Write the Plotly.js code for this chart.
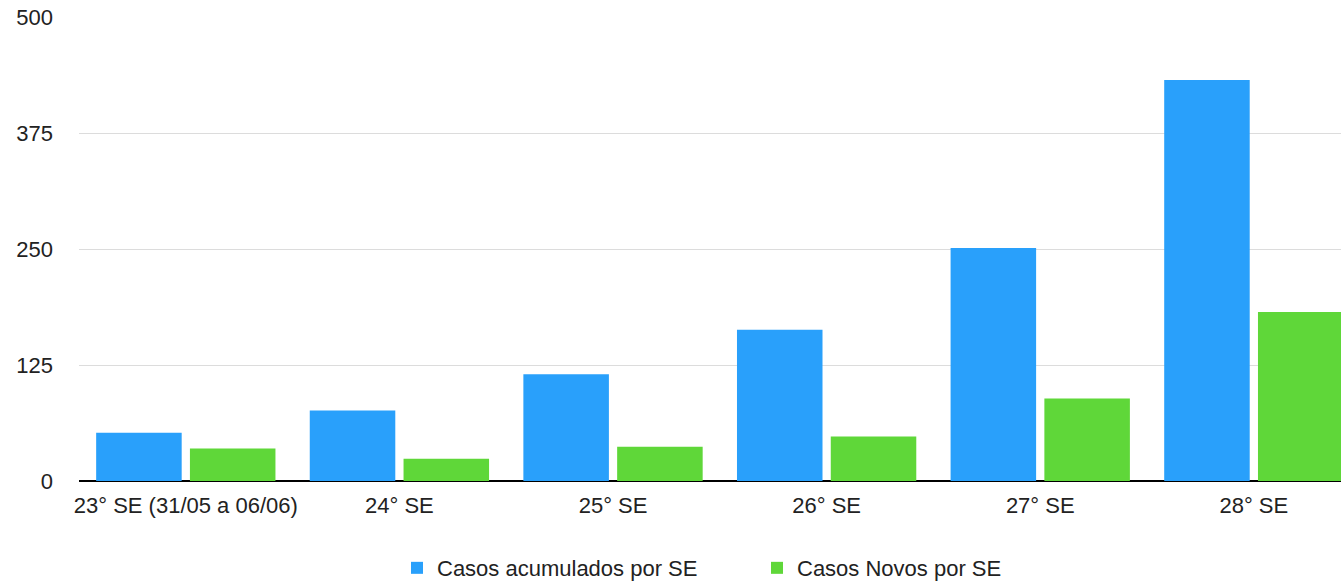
<!DOCTYPE html>
<html>
<head>
<meta charset="utf-8">
<script src="https://cdn.plot.ly/plotly-3.0.1.min.js"></script>
<style>html,body{margin:0;padding:0;background:#fff;}#chart{width:1341px;height:582px;}</style>
</head>
<body>
<div id="chart"></div>
<script>
const categories = ["23° SE (31/05 a 06/06)", "24° SE", "25° SE", "26° SE", "27° SE", "28° SE"];
const acumulados = [52, 76, 115, 163, 251, 432];
const novos = [35, 24, 37, 48, 89, 182];
const seriesNames = ["Casos acumulados por SE", "Casos Novos por SE"];
const yTicks = [0, 125, 250, 375, 500];

const font = {family: "Liberation Sans, Arial, Helvetica, sans-serif", size: 22, color: "#222"};

const data = [
  {type: "bar", name: seriesNames[0], x: categories, y: acumulados, marker: {color: "#29A0FB"}, hoverinfo: "x+y"},
  {type: "bar", name: seriesNames[1], x: categories, y: novos, marker: {color: "#5FD739"}, hoverinfo: "x+y"}
];

const layout = {
  width: 1341, height: 582,
  margin: {l: 79, r: 0, t: 17, b: 101, pad: 0},
  paper_bgcolor: "#fff", plot_bgcolor: "#fff",
  font: font,
  barmode: "group",
  bargap: 0.122,
  bargroupgap: 0.088,
  showlegend: true,
  legend: {orientation: "h", xref: "container", yref: "container", x: 0.5645, xanchor: "center", y: 0.024, yanchor: "middle",
           entrywidth: 315, entrywidthmode: "pixels", font: font, bgcolor: "rgba(0,0,0,0)"},
  xaxis: {
    type: "category", range: [-0.5, 5.408], fixedrange: true,
    showgrid: false, showline: false, zeroline: false, ticks: "",
    tickfont: font, ticklabelstandoff: 9
  },
  yaxis: {
    range: [0, 500], tickvals: yTicks, ticktext: yTicks.map(String), fixedrange: true,
    showgrid: true, gridcolor: "#dcdcdc", gridwidth: 1,
    zeroline: true, zerolinecolor: "#000", zerolinewidth: 2,
    showline: false, ticks: "", tickfont: font, ticklabelstandoff: 25
  }
};

Plotly.newPlot("chart", data, layout, {displayModeBar: false, staticPlot: true});
</script>
</body>
</html>
